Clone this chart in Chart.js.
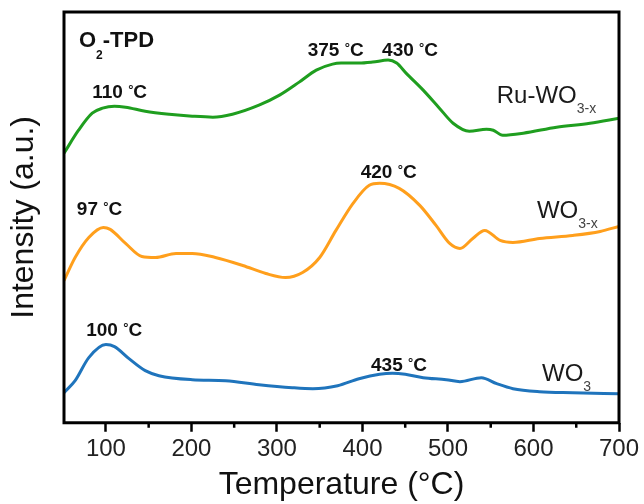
<!DOCTYPE html>
<html lang="en">
<head>
  <meta charset="UTF-8">
  <title>O2-TPD</title>
  <script src="https://cdn.jsdelivr.net/npm/chart.js"></script>
  <style>
    body { margin: 0; background: #fff; }
    .chart-container { position: relative; width: 644px; height: 504px; }
  </style>
</head>
<body>
  <div class="chart-container">
    <canvas id="tpdChart"></canvas>
  </div>

  <script>
    // Ru-WO3-x trace: temperature (°C) and offset intensity (a.u.)
    const ruTemps = [51, 68, 84, 96, 110, 123, 146, 174, 201, 225, 248, 279, 303, 326, 346, 365, 375, 396, 412, 430, 440, 451, 471, 490, 506, 525, 545, 553, 564, 588, 627, 666, 700];
    const ruIntensity = [269, 292, 309, 314, 316, 315, 311, 308, 306, 305, 308, 317, 327, 340, 352, 358, 359, 359, 360, 362, 359, 349, 332, 314, 299, 291, 293, 292, 287, 289, 295, 299, 304];

    // WO3-x trace
    const wo3xTemps = [51, 64, 80, 97, 105, 123, 142, 158, 182, 201, 228, 260, 287, 310, 330, 350, 369, 389, 408, 420, 443, 467, 486, 502, 514, 529, 543, 561, 576, 607, 646, 678, 700];
    const wo3xIntensity = [142, 165, 185, 195, 193, 179, 166, 165, 169, 169, 165, 157, 149, 145, 150, 165, 192, 219, 237, 239, 234, 217, 197, 179, 174, 184, 192, 182, 180, 184, 187, 191, 196];

    // WO3 trace
    const wo3Temps = [51, 64, 80, 100, 110, 127, 146, 162, 201, 240, 279, 318, 342, 371, 396, 420, 435, 450, 471, 498, 514, 539, 557, 576, 607, 646, 700];
    const wo3Intensity = [30, 42, 65, 78, 76, 64, 52, 47, 43, 42, 38, 35, 34, 37, 44, 48.5, 49.5, 48.5, 45, 43, 41, 45, 39, 34, 31, 30, 29];

    // x axis tick values
    const majorTicks = [100, 200, 300, 400, 500, 600, 700];
    const minorTicks = [150, 250, 350, 450, 550, 650];

    // peak temperatures labelled on the traces
    const peakTemps = [110, 375, 430, 97, 420, 100, 435];

    const FONT = 'Arial, "Liberation Sans", sans-serif';

    // where each peak label sits, in data units (left edge, baseline)
    const peakLabelAt = [[84, 324], [336, 366], [423, 366], [66, 207], [398, 244], [77, 87], [410, 52]];

    // sample names drawn next to each trace
    const sampleLabels = [
      { name: 'Ru-WO', sub: '3-x', at: [557, 319] },
      { name: 'WO', sub: '3-x', at: [604, 204] },
      { name: 'WO', sub: '3', at: [610, 42] }
    ];

    function toPoints(xs, ys) {
      return xs.map((x, i) => ({ x: x, y: ys[i] }));
    }

    // draws a run of text pieces with their own fonts and vertical shifts
    function drawParts(ctx, x, y, parts) {
      let cx = x;
      parts.forEach(p => {
        ctx.font = p.font;
        ctx.fillStyle = p.color || '#111';
        ctx.fillText(p.text, cx, y + (p.dy || 0));
        cx += ctx.measureText(p.text).width;
      });
    }

    const framePlugin = {
      id: 'frame',
      afterDraw(chart) {
        const ctx = chart.ctx;
        const area = chart.chartArea;
        const xScale = chart.scales.x;
        const yScale = chart.scales.y;
        ctx.save();

        // box around the plot
        ctx.strokeStyle = '#000';
        ctx.lineWidth = 3;
        ctx.strokeRect(area.left, area.top, area.right - area.left, area.bottom - area.top);

        // short minor ticks below the axis
        ctx.lineWidth = 2.5;
        minorTicks.forEach(t => {
          const px = xScale.getPixelForValue(t);
          ctx.beginPath();
          ctx.moveTo(px, area.bottom);
          ctx.lineTo(px, area.bottom + 5);
          ctx.stroke();
        });

        ctx.textBaseline = 'alphabetic';
        ctx.textAlign = 'left';

        // panel title
        drawParts(ctx, area.left + 15, area.top + 35, [
          { text: 'O', font: 'bold 22px ' + FONT },
          { text: '2', font: 'bold 12px ' + FONT, dy: 12 },
          { text: '-TPD', font: 'bold 22px ' + FONT }
        ]);

        // peak temperatures
        peakTemps.forEach((t, i) => {
          const at = peakLabelAt[i];
          drawParts(ctx, xScale.getPixelForValue(at[0]), yScale.getPixelForValue(at[1]), [
            { text: t + ' ', font: 'bold 19px ' + FONT },
            { text: '°', font: 'bold 13px ' + FONT, dy: -4 },
            { text: 'C', font: 'bold 19px ' + FONT }
          ]);
        });

        // sample names
        sampleLabels.forEach(s => {
          drawParts(ctx, xScale.getPixelForValue(s.at[0]), yScale.getPixelForValue(s.at[1]), [
            { text: s.name, font: '24px ' + FONT, color: '#1a1a1a' },
            { text: s.sub, font: '14px ' + FONT, color: '#444', dy: 10 }
          ]);
        });

        ctx.restore();
      }
    };

    const lineStyle = { borderWidth: 3, pointRadius: 0, fill: false, cubicInterpolationMode: 'monotone' };

    new Chart(document.getElementById('tpdChart').getContext('2d'), {
      type: 'line',
      data: {
        datasets: [
          Object.assign({ label: 'Ru-WO3-x', data: toPoints(ruTemps, ruIntensity), borderColor: '#1f9e1f' }, lineStyle),
          Object.assign({ label: 'WO3-x', data: toPoints(wo3xTemps, wo3xIntensity), borderColor: '#ff9f1c' }, lineStyle),
          Object.assign({ label: 'WO3', data: toPoints(wo3Temps, wo3Intensity), borderColor: '#1f74bc' }, lineStyle)
        ]
      },
      options: {
        responsive: true,
        maintainAspectRatio: false,
        animation: false,
        layout: { padding: { left: 0, top: 12, right: 25, bottom: 0 } },
        plugins: {
          legend: { display: false },
          tooltip: { enabled: false }
        },
        scales: {
          x: {
            type: 'linear',
            min: 51,
            max: 700,
            afterBuildTicks: axis => {
              axis.ticks = majorTicks.map(v => ({ value: v }));
            },
            grid: {
              drawOnChartArea: false,
              drawTicks: true,
              tickLength: 9,
              tickWidth: 2.5,
              tickColor: '#000'
            },
            border: { display: false },
            ticks: {
              color: '#222',
              padding: 3,
              maxRotation: 0,
              font: { size: 24, family: FONT }
            },
            title: {
              display: true,
              text: 'Temperature (°C)',
              color: '#111',
              padding: { top: 0, bottom: 0 },
              font: { size: 32, family: FONT, lineHeight: 1.17 }
            }
          },
          y: {
            min: 0,
            max: 410,
            grid: { display: false },
            border: { display: false },
            ticks: { display: false },
            title: {
              display: true,
              text: 'Intensity (a.u.)',
              color: '#111',
              padding: { top: 6, bottom: 14 },
              font: { size: 32, family: FONT, lineHeight: 1.125 }
            }
          }
        }
      },
      plugins: [framePlugin]
    });
  </script>
</body>
</html>
